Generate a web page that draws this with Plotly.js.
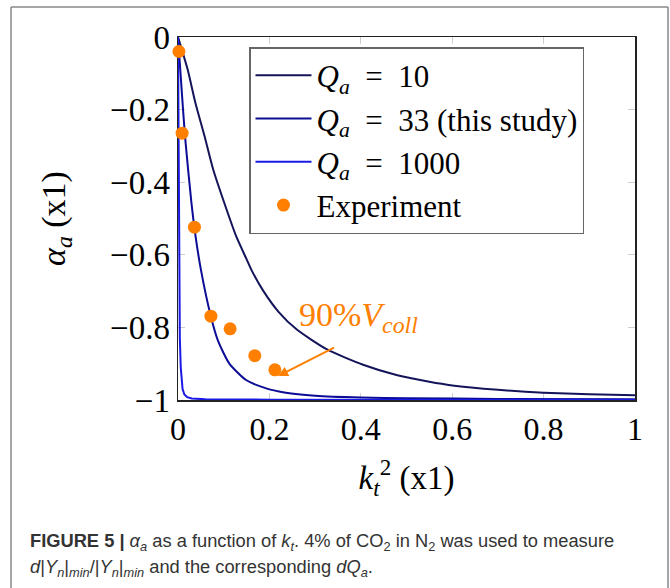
<!DOCTYPE html>
<html>
<head>
<meta charset="utf-8">
<script src="https://cdn.plot.ly/plotly-3.0.1.min.js"></script>
<style>html,body{margin:0;padding:0;background:#fff;}#chart{width:670px;height:588px;}</style>
</head>
<body>
<div id="chart"></div>
<script>
// k_t^2 values and alpha_a values
const kt2_q10 = [0, 0.021, 0.038, 0.058, 0.077, 0.101, 0.127, 0.150, 0.162, 0.187, 0.22, 0.26, 0.325, 0.405, 0.48, 0.55, 0.60, 0.70, 0.80, 0.90, 1.0];
const alpha_q10 = [0, -0.089, -0.181, -0.273, -0.365, -0.456, -0.548, -0.612, -0.645, -0.700, -0.757, -0.806, -0.860, -0.903, -0.932, -0.950, -0.960, -0.972, -0.980, -0.984, -0.987];

const kt2_q33 = [0, 0.0066, 0.0153, 0.029, 0.038, 0.050, 0.072, 0.087, 0.112, 0.149, 0.193, 0.236, 0.30, 0.40, 0.50, 0.70, 1.0];
const alpha_q33 = [0, -0.12, -0.273, -0.452, -0.545, -0.64, -0.77, -0.835, -0.899, -0.945, -0.968, -0.980, -0.988, -0.993, -0.995, -0.997, -0.998];

const kt2_q1000 = [0, 0.001, 0.002, 0.003, 0.004, 0.006, 0.008, 0.010, 0.014, 0.02, 0.03, 0.06, 0.2, 1.0];
const alpha_q1000 = [0, -0.3, -0.55, -0.72, -0.83, -0.91, -0.95, -0.97, -0.985, -0.992, -0.996, -0.998, -0.999, -1.0];

const kt2_exp = [0.002, 0.009, 0.036, 0.072, 0.114, 0.168, 0.212];
const alpha_exp = [-0.040, -0.265, -0.524, -0.769, -0.804, -0.878, -0.917];

const xTickVals = [0, 0.2, 0.4, 0.6, 0.8, 1];
const xTickText = ['0', '0.2', '0.4', '0.6', '0.8', '1'];
const yTickVals = [0, -0.2, -0.4, -0.6, -0.8, -1];
const yTickText = ['0', '\u22120.2', '\u22120.4', '\u22120.6', '\u22120.8', '\u22121'];

const seriesNames = [
  '<i>Q</i><sub><i>a</i></sub>\u2002=\u200210',
  '<i>Q</i><sub><i>a</i></sub>\u2002=\u200233 (this study)',
  '<i>Q</i><sub><i>a</i></sub>\u2002=\u20021000',
  'Experiment'
];

const serif = 'Liberation Serif, DejaVu Serif, serif';
const orange = '#ff8000';

const traces = [
  {x: kt2_q10, y: alpha_q10, mode: 'lines', name: seriesNames[0], line: {color: '#14145a', width: 2, shape: 'spline', smoothing: 0.6}},
  {x: kt2_q33, y: alpha_q33, mode: 'lines', name: seriesNames[1], line: {color: '#0c0c96', width: 2, shape: 'spline', smoothing: 0.6}},
  {x: kt2_q1000, y: alpha_q1000, mode: 'lines', name: seriesNames[2], line: {color: '#1a1ae6', width: 2}},
  {x: kt2_exp, y: alpha_exp, mode: 'markers', name: seriesNames[3], marker: {color: orange, size: 13}, cliponaxis: false}
];

function px2paperX(p){ return (p - 178) / 457; }
function px2paperY(p){ return (400 - p) / 363; }

const captionFont = {family: 'Liberation Sans Narrow, Liberation Sans, Arial, sans-serif', size: 18.3, color: '#333'};

const layout = {
  width: 670, height: 588,
  margin: {l: 178, r: 35, t: 37, b: 188},
  paper_bgcolor: '#fff', plot_bgcolor: '#fff',
  showlegend: true,
  legend: {
    x: px2paperX(249), y: px2paperY(47), xanchor: 'left', yanchor: 'top',
    bgcolor: '#fff', bordercolor: '#666', borderwidth: 1.5,
    font: {family: serif, size: 31, color: '#000'},
    itemwidth: 56
  },
  xaxis: {
    range: [0, 1], tickvals: xTickVals, ticktext: xTickText,
    showgrid: false, zeroline: false, showline: true, linecolor: '#222', linewidth: 1.5,
    mirror: 'ticks', ticks: 'inside', ticklen: 7, tickcolor: '#cfcfcf', tickwidth: 1,
    tickfont: {family: serif, size: 32, color: '#000'},
    layer: 'below traces',
    title: {text: '<i>k</i><sub><i>t</i></sub><sup>2</sup> (x1)', font: {family: serif, size: 33, color: '#000'}, standoff: 20}
  },
  yaxis: {
    range: [-1, 0], tickvals: yTickVals, ticktext: yTickText,
    showgrid: false, zeroline: false, showline: true, linecolor: '#222', linewidth: 1.5,
    mirror: 'ticks', ticks: 'inside', ticklen: 7, tickcolor: '#cfcfcf', tickwidth: 1,
    tickfont: {family: serif, size: 33, color: '#000'},
    layer: 'below traces',
    title: {text: '<i>α</i><sub><i>a</i></sub> (x1)', font: {family: serif, size: 34, color: '#000'}, standoff: 34}
  },
  shapes: [
    {type: 'line', xref: 'paper', yref: 'paper', x0: px2paperX(11), x1: px2paperX(11), y0: px2paperY(7), y1: px2paperY(600), line: {color: '#888', width: 1.5}},
    {type: 'line', xref: 'paper', yref: 'paper', x0: px2paperX(11), x1: px2paperX(668), y0: px2paperY(7), y1: px2paperY(7), line: {color: '#888', width: 1.5}},
    {type: 'line', xref: 'paper', yref: 'paper', x0: px2paperX(668), x1: px2paperX(668), y0: px2paperY(7), y1: px2paperY(600), line: {color: '#888', width: 1.5}}
  ],
  annotations: [
    {x: 0.219, y: -0.934, xref: 'x', yref: 'y', text: ' ', showarrow: true, ax: 59, ay: -30,
     arrowcolor: orange, arrowwidth: 2, arrowhead: 2, arrowsize: 1},
    {x: 0.395, y: -0.772, xref: 'x', yref: 'y', text: '90%<i>V</i><sub><i>coll</i></sub>', showarrow: false,
     font: {family: serif, size: 34, color: orange}},
    {x: px2paperX(28), y: px2paperY(542), xref: 'paper', yref: 'paper', xanchor: 'left', yanchor: 'middle', showarrow: false,
     text: '<b>FIGURE 5 |</b> <i>α</i><sub><i>a</i></sub> as a function of <i>k</i><sub><i>t</i></sub>. 4% of CO<sub>2</sub> in N<sub>2</sub> was used to measure',
     font: captionFont},
    {x: px2paperX(28), y: px2paperY(568), xref: 'paper', yref: 'paper', xanchor: 'left', yanchor: 'middle', showarrow: false,
     text: '<i>d</i>|<i>Y</i><sub><i>n</i></sub>|<sub><i>min</i></sub>/|<i>Y</i><sub><i>n</i></sub>|<sub><i>min</i></sub> and the corresponding <i>dQ</i><sub><i>a</i></sub>.',
     font: captionFont}
  ]
};

Plotly.newPlot('chart', traces, layout, {displayModeBar: false, staticPlot: true});
</script>
</body>
</html>
